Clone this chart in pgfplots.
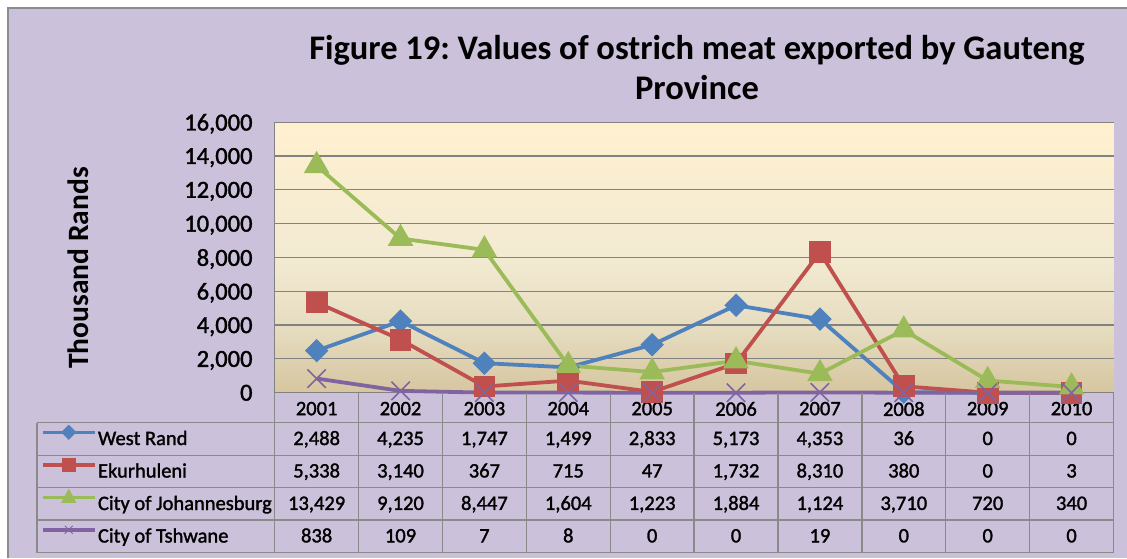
\documentclass[border=0pt]{standalone}
\usepackage{fontspec}
\setmainfont{Carlito}
\newfontfamily\heavy{Carlito}[FakeBold=1.5]
\usepackage{pgfplots}
\pgfplotsset{compat=1.18}
\frenchspacing
\definecolor{bgl}{HTML}{CCC1DA}
\definecolor{framec}{HTML}{8C8C8C}
\definecolor{wr}{HTML}{4F81BD}
\definecolor{ek}{HTML}{C0504D}
\definecolor{jb}{HTML}{9BBB59}
\definecolor{ts}{HTML}{8064A2}
\definecolor{gridc}{HTML}{828282}
\definecolor{tabc}{HTML}{8A8A8A}
\definecolor{pgtop}{HTML}{FFF0D0}
\definecolor{pgmtwo}{HTML}{F2EAD2}
\definecolor{pgmone}{HTML}{E6DCC0}
\definecolor{pgbot}{HTML}{D6C6A0}
\pgfdeclareverticalshading{plotbg}{100bp}{color(0bp)=(pgbot); color(25bp)=(pgbot); color(37bp)=(pgmone); color(50bp)=(pgmtwo); color(75bp)=(pgtop); color(100bp)=(pgtop)}
\begin{document}
\begin{tikzpicture}[x=1pt,y=1pt]
\useasboundingbox (0,0) rectangle (1127,-558);
\fill[white] (0,0) rectangle (1127,-558);
\fill[bgl] (7,-7) rectangle (1127,-558);
\draw[framec, line width=2.4pt] (7.7,-558) -- (7.7,-7.7) -- (1127,-7.7);
% title
\node[font=\bfseries\fontsize{34.5}{40}\selectfont, anchor=base] at (697,-59) {Figure 19: Values of ostrich meat exported by Gauteng};
\node[font=\bfseries\fontsize{34.5}{40}\selectfont, anchor=base] at (697,-99) {Province};
% y label
\node[font=\bfseries\fontsize{29.5}{34}\selectfont, rotate=90] at (78,-268) {Thousand Rands};
\begin{axis}[
  at={(274.7pt,-392.7pt)}, anchor=south west,
  scale only axis, width=838.8pt, height=270.5pt,
  xmin=-0.5, xmax=9.5, ymin=0, ymax=16000,
  axis background/.style={shading=plotbg},
  axis lines*=left,
  axis line style={gridc, line width=1.2pt},
  ymajorgrids, grid style={gridc, line width=1.2pt},
  major tick length=0pt,
  ytick={0,2000,...,16000},
  scaled y ticks=false,
  yticklabel style={font=\heavy\fontsize{24.5}{28}\selectfont, anchor=east, inner sep=0pt, xshift=-22pt, text depth=0pt,
    /pgf/number format/fixed, /pgf/number format/1000 sep={,}, /pgf/number format/assume math mode=true},
  xtick={0,...,9},
  xticklabels={2001,2002,2003,2004,2005,2006,2007,2008,2009,2010},
  xticklabel style={font=\heavy\fontsize{20.5}{24}\selectfont, anchor=north, inner sep=0pt, yshift=-9pt},
  clip=false,
  legend cell align=left,
  legend style={at={(-0.2786,-0.1109)}, anchor=north west, draw=none, fill=none, inner sep=0pt, outer sep=0pt,
    row sep=0pt, font=\heavy\fontsize{20.5}{24}\selectfont,
    nodes={inner sep=0pt, text height=22.3pt, text depth=10.2pt},
    /tikz/every odd column/.append style={column sep=1.5pt}},
]
\addplot[wr, line width=3.8pt, mark=square*, mark size=6.4pt, mark options={rotate=45, solid},
  legend image code/.code={\draw[wr, line width=3pt] (0pt,6.7pt) -- (52pt,6.7pt);
    \fill[wr, rotate around={45:(26pt,6.7pt)}] (22.5pt,3.2pt) rectangle (29.5pt,10.2pt);}] coordinates {
 (0,2488) (1,4235) (2,1747) (3,1499) (4,2833) (5,5173) (6,4353) (7,36) (8,0) (9,0)};
\addlegendentry{West Rand}
\addplot[ek, line width=3.8pt, mark=square*, mark size=9pt, mark options={solid},
  legend image code/.code={\draw[ek, line width=3.5pt] (0pt,6.7pt) -- (52pt,6.7pt);
    \fill[ek] (21pt,1.7pt) rectangle (31pt,11.7pt);}] coordinates {
 (0,5338) (1,3140) (2,367) (3,715) (4,47) (5,1732) (6,8310) (7,380) (8,0) (9,3)};
\addlegendentry{Ekurhuleni}
\addplot[jb, line width=3.8pt, mark=triangle*, mark size=11pt, mark options={solid},
  legend image code/.code={\draw[jb, line width=3.5pt] (0pt,6.7pt) -- (52pt,6.7pt);
    \fill[jb] (21.5pt,3pt) -- (30.5pt,3pt) -- (26pt,11.5pt) -- cycle;}] coordinates {
 (0,13429) (1,9120) (2,8447) (3,1604) (4,1223) (5,1884) (6,1124) (7,3710) (8,720) (9,340)};
\addlegendentry{City of Johannesburg}
\addplot[ts, line width=3.8pt, mark=x, mark size=13pt, mark options={solid, line width=1.6pt},
  legend image code/.code={\draw[ts, line width=3.5pt] (0pt,6.7pt) -- (52pt,6.7pt);
    \draw[ts, line width=0.8pt] (22pt,2.7pt) -- (30pt,10.7pt) (22pt,10.7pt) -- (30pt,2.7pt);}] coordinates {
 (0,838) (1,109) (2,7) (3,8) (4,0) (5,0) (6,19) (7,0) (8,0) (9,0)};
\addlegendentry{City of Tshwane}
\end{axis}
% data table grid
\foreach \yy in {422.7,455.15,487.6,520.05,552.5} \draw[tabc, line width=1.3pt] (37,-\yy) -- (1113.5,-\yy);
\draw[tabc, line width=1.3pt] (37,-422.7) -- (37,-552.5);
\foreach \k in {0,...,10} \draw[tabc, line width=1.3pt] ({274.7+83.88*\k},-392.7) -- ({274.7+83.88*\k},-552.5);
% table values
\begin{scope}[every node/.style={font=\heavy\fontsize{20.5}{24}\selectfont, anchor=base, inner sep=0pt}]
\foreach \v [count=\c from 0] in {{2,488},{4,235},{1,747},{1,499},{2,833},{5,173},{4,353},{36},{0},{0}}
  \node at ({274.7+83.88*(\c+0.5)},-445) {\v};
\foreach \v [count=\c from 0] in {{5,338},{3,140},{367},{715},{47},{1,732},{8,310},{380},{0},{3}}
  \node at ({274.7+83.88*(\c+0.5)},-477.45) {\v};
\foreach \v [count=\c from 0] in {{13,429},{9,120},{8,447},{1,604},{1,223},{1,884},{1,124},{3,710},{720},{340}}
  \node at ({274.7+83.88*(\c+0.5)},-509.9) {\v};
\foreach \v [count=\c from 0] in {{838},{109},{7},{8},{0},{0},{19},{0},{0},{0}}
  \node at ({274.7+83.88*(\c+0.5)},-542.35) {\v};
\end{scope}
\end{tikzpicture}
\end{document}
